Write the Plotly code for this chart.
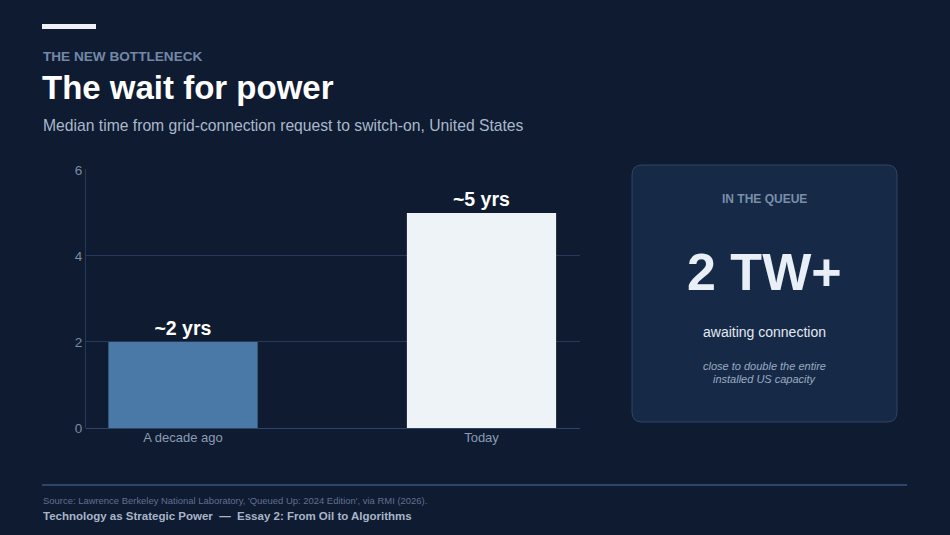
import plotly.graph_objects as go

categories = ["A decade ago", "Today"]
years = [2, 5]
bar_labels = ["~2 yrs", "~5 yrs"]
bar_colors = ["#4a79a8", "#eef3f8"]
y_ticks = [0, 2, 4, 6]

W, H = 950, 535
FONT = "Liberation Sans, Arial, sans-serif"

def px(x):
    return x / W

def py(y):
    return 1 - y / H

fig = go.Figure()
fig.add_trace(go.Bar(
    x=categories, y=years, width=0.5,
    marker=dict(color=bar_colors, line=dict(width=0)),
    text=bar_labels, textposition="outside", cliponaxis=False,
    textfont=dict(family=FONT, size=19.5, color="#ffffff", weight="bold"),
    hoverinfo="skip",
))

# rounded card path
x0, x1, y0, y1 = px(632), px(897), py(422), py(165)
rx, ry = 10 / W, 10 / H
card = (f"M {x0+rx},{y0} L {x1-rx},{y0} Q {x1},{y0} {x1},{y0+ry} "
        f"L {x1},{y1-ry} Q {x1},{y1} {x1-rx},{y1} L {x0+rx},{y1} "
        f"Q {x0},{y1} {x0},{y1-ry} L {x0},{y0+ry} Q {x0},{y0} {x0+rx},{y0} Z")

shapes = [
    dict(type="rect", xref="paper", yref="paper", x0=px(42), x1=px(96), y0=py(29), y1=py(24),
         fillcolor="#eef2f7", line=dict(width=0), layer="above"),
    dict(type="path", xref="paper", yref="paper", path=card,
         fillcolor="#162a48", line=dict(color="#2f4566", width=1), layer="below"),
    dict(type="line", xref="paper", yref="paper", x0=px(42), x1=px(907), y0=py(485), y1=py(485),
         line=dict(color="#2e4468", width=2)),
]

ann = []
def txt(x, y, s, size, color, bold=False, italic=False, xanchor="left"):
    ann.append(dict(xref="paper", yref="paper", x=px(x), y=py(y), text=s, showarrow=False,
                    xanchor=xanchor, yanchor="middle",
                    font=dict(family=FONT, size=size, color=color,
                              weight="bold" if bold else "normal",
                              style="italic" if italic else "normal")))

txt(40.5, 57, "THE NEW BOTTLENECK", 13.6, "#7388a8", bold=True)
txt(40, 88, "The wait for power", 33, "#ffffff", bold=True)
txt(40.5, 126, "Median time from grid-connection request to switch-on, United States", 15.7, "#a9b8cc")

cx = 764.5
txt(cx, 199, "IN THE QUEUE", 12, "#7a8eaa", bold=True, xanchor="center")
txt(cx, 272, "2 TW+", 52, "#e9eff6", bold=True, xanchor="center")
txt(cx, 332, "awaiting connection", 14, "#e2e8ef", xanchor="center")
txt(cx, 366, "close to double the entire", 11, "#9aaac0", italic=True, xanchor="center")
txt(cx, 379, "installed US capacity", 11, "#9aaac0", italic=True, xanchor="center")

txt(40.5, 500, "Source: Lawrence Berkeley National Laboratory, 'Queued Up: 2024 Edition', via RMI (2026).", 9.45, "#5f7090")
txt(40.5, 516, "Technology as Strategic Power  \u2014  Essay 2: From Oil to Algorithms", 11.5, "#a8b5c8", bold=True)

fig.update_layout(
    width=W, height=H, margin=dict(l=0, r=0, t=0, b=0, pad=0, autoexpand=False),
    paper_bgcolor="#0f1b30", plot_bgcolor="rgba(0,0,0,0)",
    showlegend=False, shapes=shapes, annotations=ann,
    xaxis=dict(domain=[px(86), px(580)], range=[-0.325, 1.33], showgrid=False,
               showline=False, zeroline=False, ticks="", automargin=False,
               tickfont=dict(family=FONT, size=13, color="#8c9cb4")),
    yaxis=dict(domain=[py(428), py(169)], range=[0, 6.02], tickvals=y_ticks,
               showgrid=True, gridcolor="#27395a", gridwidth=1, automargin=False,
               zeroline=True, zerolinecolor="#2e4468", zerolinewidth=1,
               showline=True, linecolor="#27395a", linewidth=1,
               ticks="", ticklen=0,
               tickfont=dict(family=FONT, size=13.5, color="#7a8ba4")),
)

fig.write_html(
    "out.html",
    config={"displayModeBar": False},
    post_script="document.body.style.margin='0';document.body.style.overflow='hidden';"
                "document.body.style.background='#0f1b30';",
)
